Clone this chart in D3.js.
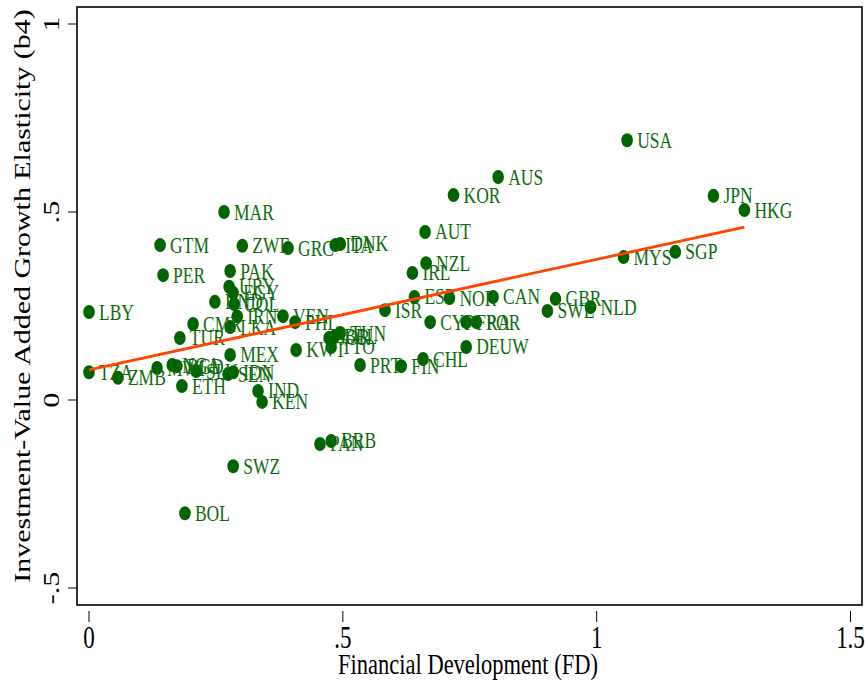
<!DOCTYPE html>
<html>
<head>
<meta charset="utf-8">
<script src="https://cdn.jsdelivr.net/npm/d3@7"></script>
<style>
  html, body { margin: 0; padding: 0; background: #fff; }
  svg { display: block; }
  text { font-family: "Liberation Serif", "Times New Roman", serif; }
</style>
</head>
<body>
<svg id="chart" width="865" height="681"></svg>
<script>
// Country codes, financial development (FD) and investment-value added growth elasticity (b4)
const countries = ["USA","AUS","KOR","JPN","HKG","MAR","AUT","GTM","ZWE","GRC","ITA","DNK","NZL","SGP","MYS",
  "PER","PAK","IRL","URY","EGY","HND","COL","IRN","LKA","VEN","PHL","LBY","CMR","TUR","MEX",
  "TZA","ZMB","MWI","NGA","BGD","SLV","SEN","IDN","ETH","IND","KEN","PAN","BRB","SWZ","BOL",
  "KWT","JOR","BEL","TUN","TTO","ISR","PRT","FIN","CHL","DEUW","CYP","FRA","POR","ESP","NOR",
  "CAN","GBR","SWE","NLD"];
const fd = [1.060,0.806,0.718,1.230,1.291,0.266,0.662,0.140,0.302,0.392,0.485,0.495,0.664,1.155,1.053,
  0.146,0.278,0.637,0.276,0.284,0.248,0.286,0.292,0.278,0.382,0.406,0.000,0.205,0.179,0.278,
  0.000,0.057,0.134,0.164,0.173,0.211,0.274,0.284,0.183,0.333,0.341,0.455,0.477,0.284,0.189,
  0.408,0.473,0.483,0.495,0.477,0.583,0.534,0.615,0.658,0.743,0.672,0.743,0.763,0.641,0.710,
  0.796,0.919,0.903,0.988];
const b4 = [0.691,0.593,0.545,0.543,0.505,0.500,0.447,0.412,0.410,0.404,0.412,0.415,0.364,0.394,0.380,
  0.332,0.343,0.338,0.301,0.285,0.261,0.255,0.222,0.194,0.223,0.207,0.234,0.202,0.165,0.120,
  0.074,0.059,0.085,0.093,0.090,0.077,0.069,0.074,0.037,0.024,-0.005,-0.117,-0.109,-0.176,-0.301,
  0.133,0.165,0.168,0.178,0.141,0.239,0.093,0.090,0.109,0.141,0.207,0.207,0.207,0.274,0.271,
  0.274,0.269,0.237,0.247];

// Linear fit of b4 on FD
const fitIntercept = 0.080;
const fitSlope = 0.294;

const xTicks = [0, 0.5, 1, 1.5];
const xTickLabels = ["0", ".5", "1", "1.5"];
const yTicks = [-0.5, 0, 0.5, 1];
const yTickLabels = ["-.5", "0", ".5", "1"];

const STRETCH = 1.33; // tall, narrow glyphs
const svg = d3.select("#chart");

const x = d3.scaleLinear().domain([0, 1.5]).range([89, 850.5]);
const y = d3.scaleLinear().domain([-0.5, 1]).range([588, 24]);

// Plot frame
const frame = {left: 77, right: 862, top: 7, bottom: 605};
svg.append("rect")
  .attr("x", frame.left).attr("y", frame.top)
  .attr("width", frame.right - frame.left).attr("height", frame.bottom - frame.top)
  .attr("fill", "none").attr("stroke", "#000").attr("stroke-width", 1.6);

// X axis ticks and labels
const xg = svg.append("g");
xg.selectAll("line").data(xTicks).join("line")
  .attr("x1", d => x(d)).attr("x2", d => x(d))
  .attr("y1", 611).attr("y2", 622)
  .attr("stroke", "#000").attr("stroke-width", 1);
xg.selectAll("text").data(xTicks).join("text")
  .attr("transform", d => `translate(${x(d)},648) scale(1,${STRETCH})`)
  .attr("text-anchor", "middle")
  .attr("font-size", 23)
  .text((d, i) => xTickLabels[i]);
svg.append("text")
  .attr("transform", `translate(468,674) scale(1,${STRETCH})`)
  .attr("text-anchor", "middle").attr("font-size", 22.5)
  .text("Financial Development (FD)");

// Y axis ticks and labels
const yg = svg.append("g");
yg.selectAll("line").data(yTicks).join("line")
  .attr("x1", 68).attr("x2", frame.left)
  .attr("y1", d => y(d)).attr("y2", d => y(d))
  .attr("stroke", "#000").attr("stroke-width", 1);
yg.selectAll("text").data(yTicks).join("text")
  .attr("transform", d => `translate(59,${y(d)}) scale(1,${STRETCH}) rotate(-90)`)
  .attr("text-anchor", "middle")
  .attr("font-size", 23)
  .text((d, i) => yTickLabels[i]);
svg.append("text")
  .attr("transform", `translate(30,296) scale(1,${STRETCH}) rotate(-90)`)
  .attr("text-anchor", "middle").attr("font-size", 22.5)
  .text("Investment-Value Added Growth Elasticity (b4)");

// Scatter points
const pts = countries.map((c, i) => ({c, fd: fd[i], b4: b4[i]}));
svg.append("g").selectAll("ellipse").data(pts).join("ellipse")
  .attr("cx", d => x(d.fd)).attr("cy", d => y(d.b4))
  .attr("rx", 5.8).attr("ry", 7)
  .attr("fill", "#006400");

// Point labels to the right of each marker
svg.append("g").selectAll("text").data(pts).join("text")
  .attr("transform", d => `translate(${x(d.fd) + 10},${y(d.b4) + 7.5}) scale(1,${STRETCH})`)
  .attr("font-size", 17.5)
  .attr("fill", "#0d6b0d")
  .text(d => d.c);

// Fitted line over the observed FD range
const [fmin, fmax] = d3.extent(fd);
svg.append("line")
  .attr("x1", x(fmin)).attr("y1", y(fitIntercept + fitSlope * fmin))
  .attr("x2", x(fmax)).attr("y2", y(fitIntercept + fitSlope * fmax))
  .attr("stroke", "#ff4500").attr("stroke-width", 2.8);
</script>
</body>
</html>
